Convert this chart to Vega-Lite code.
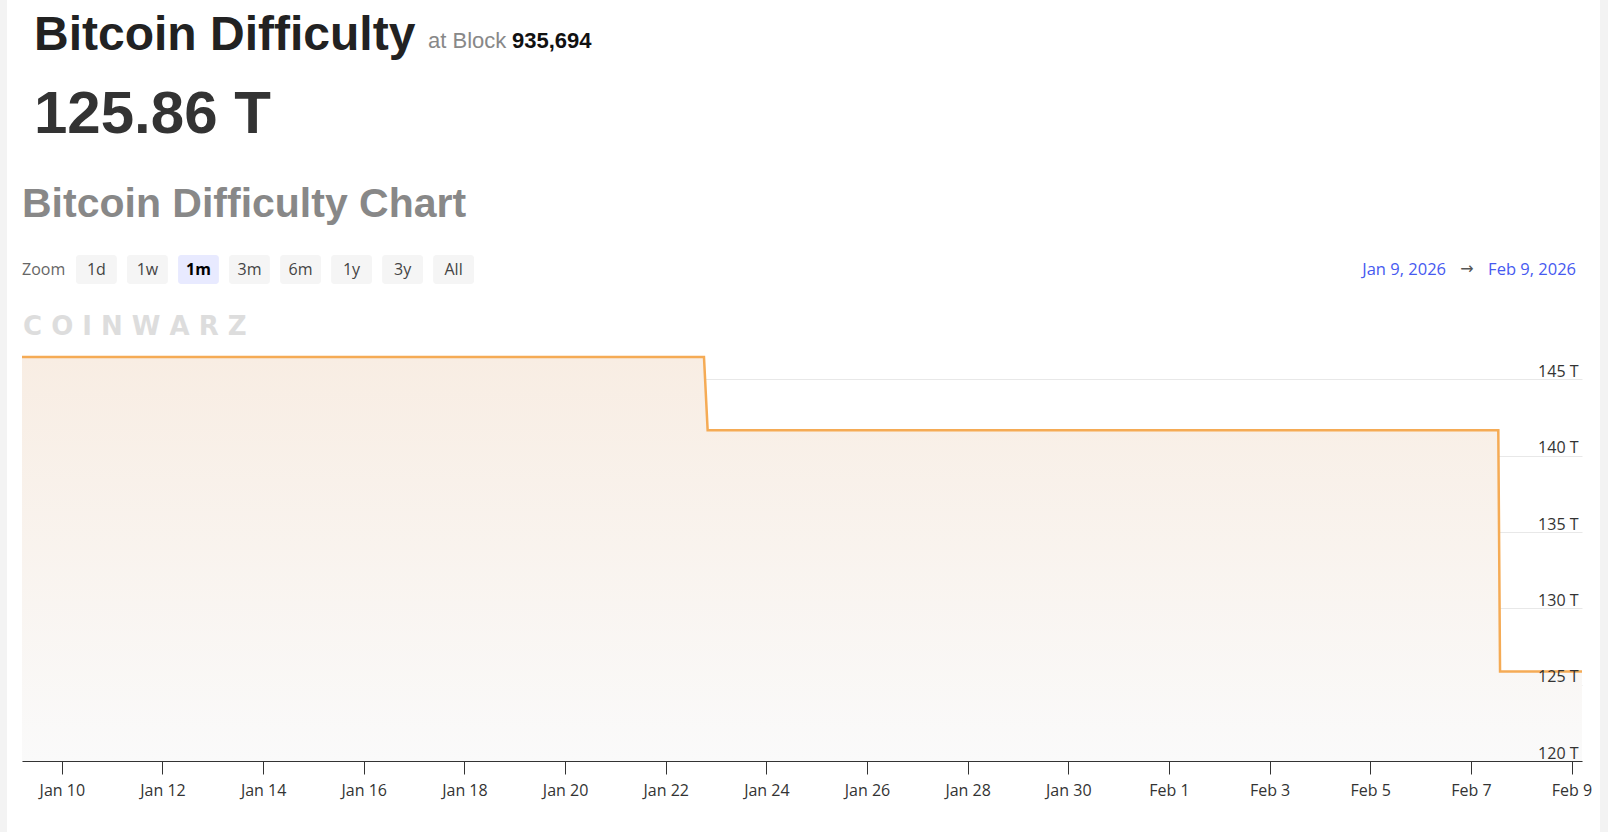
{
  "$schema": "https://vega.github.io/schema/vega-lite/v6.json",
  "width": 1560,
  "height": 458,
  "autosize": {"type": "none"},
  "padding": {"left": 22, "top": 303, "right": 26, "bottom": 71},
  "background": "#ffffff",
  "config": {"view": {"stroke": null}, "font": "Open Sans"},
  "datasets": {
    "difficulty": [
      {"date": "2026-01-09T05:00:00Z", "difficulty": 146.47},
      {"date": "2026-01-22T18:15:00Z", "difficulty": 146.47},
      {"date": "2026-01-22T20:00:00Z", "difficulty": 141.67},
      {"date": "2026-02-07T13:05:00Z", "difficulty": 141.67},
      {"date": "2026-02-07T13:55:00Z", "difficulty": 125.86},
      {"date": "2026-02-09T05:00:00Z", "difficulty": 125.86}
    ],
    "buttons": [
      {"label": "1d"}, {"label": "1w"}, {"label": "1m"}, {"label": "3m"},
      {"label": "6m"}, {"label": "1y"}, {"label": "3y"}, {"label": "All"}
    ]
  },
  "resolve": {"scale": {"x": "independent"}, "axis": {"x": "independent"}},
  "layer": [
    {"data": {"values": [{}]}, "mark": {"type": "rect", "x": -22, "x2": -15, "y": -303, "y2": 529, "fill": "#f3f3f3"}, "encoding": {}},
    {"data": {"values": [{}]}, "mark": {"type": "rect", "x": 1578, "x2": 1586, "y": -303, "y2": 529, "fill": "#f3f3f3"}, "encoding": {}},
    {"data": {"values": [{}]}, "mark": {"type": "rule", "x": -15, "y": -303, "y2": 529, "stroke": "#e2e2e2", "strokeWidth": 1.5}, "encoding": {}},
    {"data": {"values": [{}]}, "mark": {"type": "rule", "x": 1578.5, "y": -303, "y2": 529, "stroke": "#e2e2e2", "strokeWidth": 1.5}, "encoding": {}},
    {"data": {"values": [{}]}, "mark": {"type": "rule", "x": -15, "x2": 1578, "y": -143.5, "stroke": "#e6e6e6", "strokeWidth": 2}, "encoding": {}},
    {"data": {"values": [{}]}, "mark": {"type": "rule", "x": 0, "x2": 1560, "y": 0.5, "stroke": "#e6e6e6", "strokeWidth": 1.5}, "encoding": {}},
    {
      "data": {"name": "difficulty"},
      "resolve": {"axis": {"y": "independent"}},
      "encoding": {
        "x": {
          "field": "date",
          "type": "temporal",
          "scale": {
            "type": "utc",
            "domain": [
              {"year": 2026, "month": 1, "date": 9, "hours": 5, "utc": true},
              {"year": 2026, "month": 2, "date": 9, "hours": 5, "utc": true}
            ]
          },
          "axis": {
            "values": [
              {"year": 2026, "month": 1, "date": 10, "utc": true},
              {"year": 2026, "month": 1, "date": 12, "utc": true},
              {"year": 2026, "month": 1, "date": 14, "utc": true},
              {"year": 2026, "month": 1, "date": 16, "utc": true},
              {"year": 2026, "month": 1, "date": 18, "utc": true},
              {"year": 2026, "month": 1, "date": 20, "utc": true},
              {"year": 2026, "month": 1, "date": 22, "utc": true},
              {"year": 2026, "month": 1, "date": 24, "utc": true},
              {"year": 2026, "month": 1, "date": 26, "utc": true},
              {"year": 2026, "month": 1, "date": 28, "utc": true},
              {"year": 2026, "month": 1, "date": 30, "utc": true},
              {"year": 2026, "month": 2, "date": 1, "utc": true},
              {"year": 2026, "month": 2, "date": 3, "utc": true},
              {"year": 2026, "month": 2, "date": 5, "utc": true},
              {"year": 2026, "month": 2, "date": 7, "utc": true},
              {"year": 2026, "month": 2, "date": 9, "utc": true}
            ],
            "labelExpr": "utcFormat(datum.value, '%b %-d')",
            "title": null,
            "grid": false,
            "domainColor": "#333333",
            "tickColor": "#333333",
            "tickSize": 13,
            "labelPadding": 8,
            "labelFontSize": 16,
            "labelColor": "#333333",
            "labelFont": "Open Sans",
            "labelFlush": false,
            "labelOverlap": false,
            "labelBound": false
          }
        }
      },
      "layer": [
        {
          "mark": {
            "type": "area",
            "color": {
              "gradient": "linear",
              "x1": 0, "y1": 0, "x2": 0, "y2": 1,
              "stops": [
                {"offset": 0, "color": "#f8ede3"},
                {"offset": 1, "color": "#fafafa"}
              ]
            }
          },
          "encoding": {
            "y": {
              "field": "difficulty",
              "type": "quantitative",
              "scale": {"domain": [120, 150], "zero": false, "nice": false},
              "axis": {
                "orient": "left",
                "values": [120, 125, 130, 135, 140, 145],
                "title": null,
                "grid": true,
                "gridColor": "#e8e8e8",
                "domain": false,
                "ticks": false,
                "labels": false,
                "tickSize": 0
              }
            },
            "y2": {"datum": 120}
          }
        },
        {
          "mark": {"type": "line", "color": "#f5ab55", "strokeWidth": 2.5},
          "encoding": {
            "y": {
              "field": "difficulty",
              "type": "quantitative",
              "scale": {"domain": [120, 150], "zero": false, "nice": false},
              "axis": {
                "orient": "right",
                "zindex": 1,
                "values": [120, 125, 130, 135, 140, 145],
                "labelExpr": "datum.value + ' T'",
                "title": null,
                "grid": false,
                "domain": false,
                "ticks": false,
                "tickSize": 0,
                "labelAlign": "right",
                "labelBaseline": "alphabetic",
                "labelPadding": -4,
                "labelOffset": -3,
                "labelFontSize": 16,
                "labelColor": "#333333",
                "labelFont": "Open Sans",
                "labelOverlap": false,
                "labelFlush": false,
                "labelBound": false
              }
            }
          }
        }
      ]
    },
    {
      "data": {"name": "buttons"},
      "encoding": {
        "x": {
          "field": "label",
          "type": "nominal",
          "sort": null,
          "scale": {"type": "band", "range": [54, 452], "paddingInner": 0.2, "paddingOuter": 0},
          "axis": null
        }
      },
      "layer": [
        {
          "mark": {"type": "rect", "y": -48, "y2": -19, "cornerRadius": 3},
          "encoding": {
            "color": {"condition": {"test": "datum.label === '1m'", "value": "#e8eaff"}, "value": "#f5f5f5"}
          }
        },
        {
          "transform": [{"filter": "datum.label !== '1m'"}],
          "mark": {"type": "text", "y": -33, "baseline": "middle", "align": "center", "fontSize": 16, "font": "Open Sans", "fill": "#444444"},
          "encoding": {"text": {"field": "label"}}
        },
        {
          "transform": [{"filter": "datum.label === '1m'"}],
          "mark": {"type": "text", "y": -33, "baseline": "middle", "align": "center", "fontSize": 16, "font": "Open Sans", "fontWeight": "bold", "fill": "#000000"},
          "encoding": {"text": {"field": "label"}}
        }
      ]
    },
    {"data": {"values": [{}]}, "mark": {"type": "text", "text": "Bitcoin Difficulty", "x": 12, "y": -253, "align": "left", "baseline": "alphabetic", "font": "Liberation Sans", "fontWeight": "bold", "fontSize": 48, "fill": "#222222"}, "encoding": {}},
    {"data": {"values": [{}]}, "mark": {"type": "text", "text": "at Block", "x": 406, "y": -255, "align": "left", "baseline": "alphabetic", "font": "Liberation Sans", "fontSize": 22, "fill": "#888888"}, "encoding": {}},
    {"data": {"values": [{}]}, "mark": {"type": "text", "text": "935,694", "x": 490, "y": -255, "align": "left", "baseline": "alphabetic", "font": "Liberation Sans", "fontWeight": "bold", "fontSize": 22, "fill": "#111111"}, "encoding": {}},
    {"data": {"values": [{}]}, "mark": {"type": "text", "text": "125.86 T", "x": 12, "y": -170, "align": "left", "baseline": "alphabetic", "font": "Liberation Sans", "fontWeight": "bold", "fontSize": 60, "fill": "#333333"}, "encoding": {}},
    {"data": {"values": [{}]}, "mark": {"type": "text", "text": "Bitcoin Difficulty Chart", "x": 0, "y": -86, "align": "left", "baseline": "alphabetic", "font": "Liberation Sans", "fontWeight": "bold", "fontSize": 41, "fill": "#888888"}, "encoding": {}},
    {"data": {"values": [{}]}, "mark": {"type": "text", "text": "Zoom", "x": 0, "y": -33, "align": "left", "baseline": "middle", "font": "Open Sans", "fontSize": 16, "fill": "#666666"}, "encoding": {}},
    {"data": {"values": [{}]}, "mark": {"type": "text", "text": "Jan 9, 2026", "x": 1424, "y": -33, "align": "right", "baseline": "middle", "font": "Open Sans", "fontSize": 16.5, "fill": "#4659f0"}, "encoding": {}},
    {"data": {"values": [{}]}, "mark": {"type": "text", "text": "→", "x": 1445, "y": -34, "align": "center", "baseline": "middle", "font": "DejaVu Sans", "fontSize": 16, "fill": "#555555"}, "encoding": {}},
    {"data": {"values": [{}]}, "mark": {"type": "text", "text": "Feb 9, 2026", "x": 1554, "y": -33, "align": "right", "baseline": "middle", "font": "Open Sans", "fontSize": 16.5, "fill": "#4659f0"}, "encoding": {}},
    {"data": {"values": [{}]}, "mark": {"type": "text", "text": "C O I N W A R Z", "x": 1, "y": 32, "align": "left", "baseline": "alphabetic", "font": "DejaVu Sans", "fontWeight": "bold", "fontSize": 26, "fill": "#dddddd"}, "encoding": {}}
  ]
}
